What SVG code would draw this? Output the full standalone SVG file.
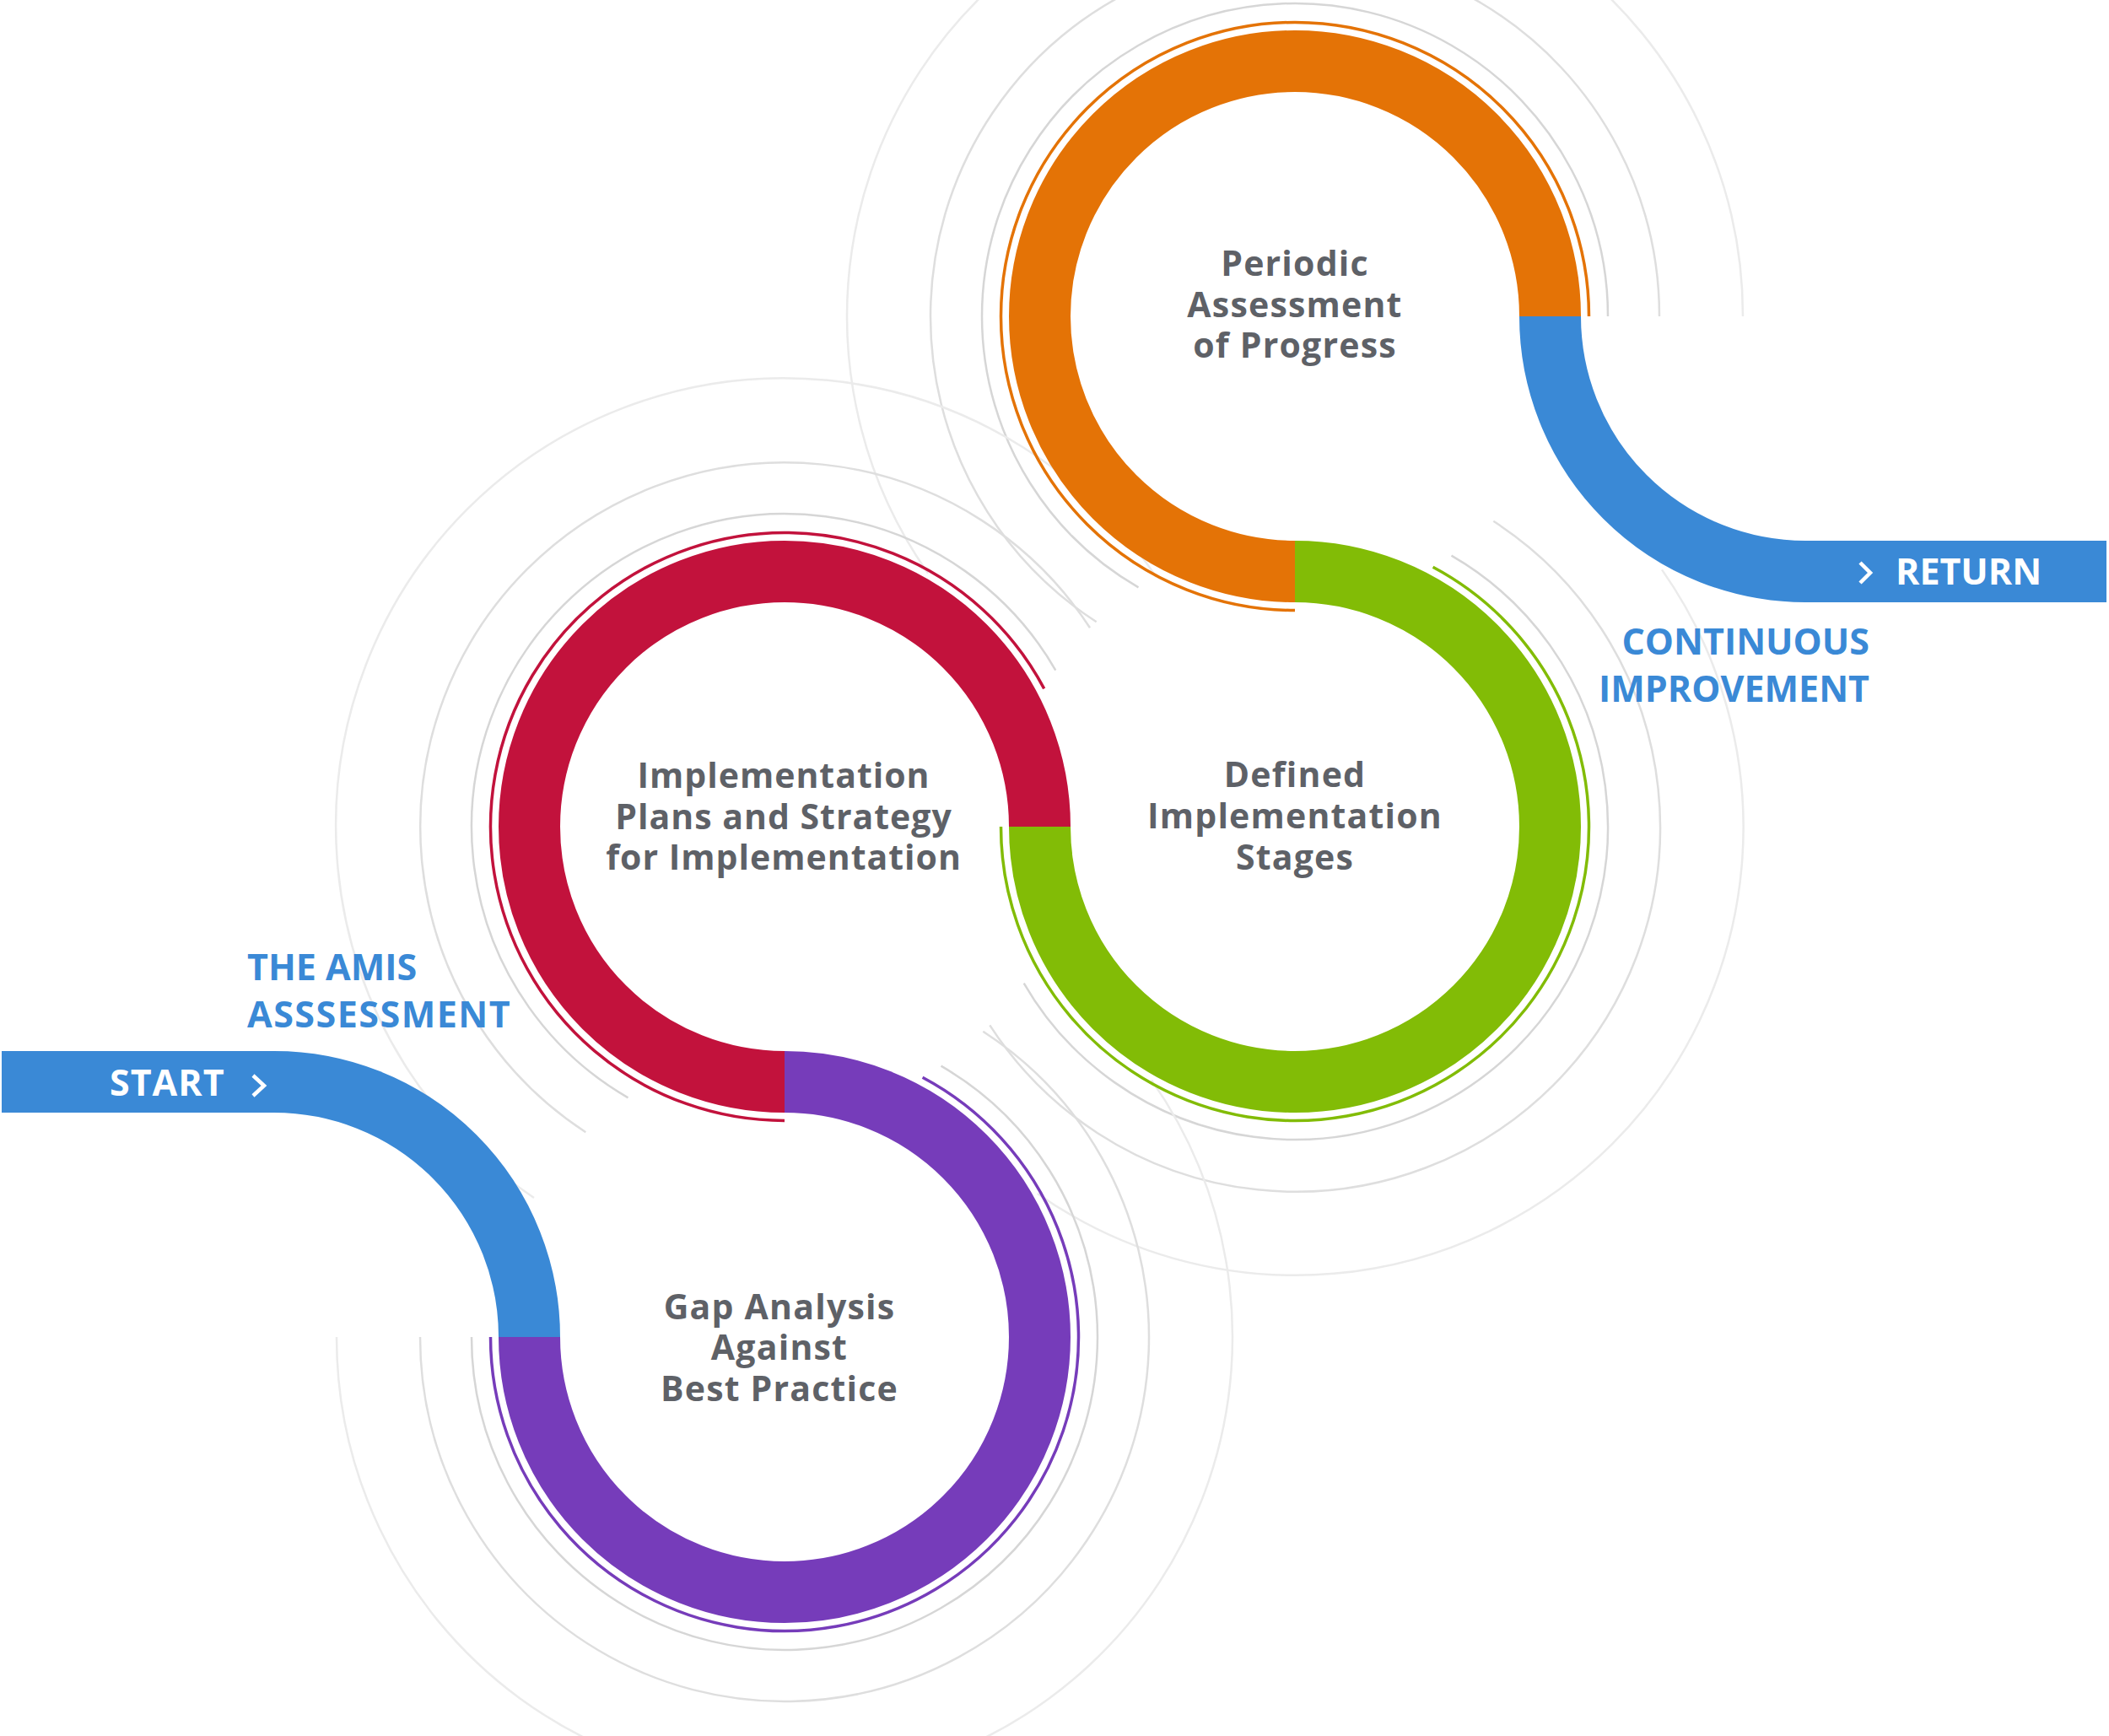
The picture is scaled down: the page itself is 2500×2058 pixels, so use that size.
<svg xmlns="http://www.w3.org/2000/svg" width="2500" height="2058" viewBox="0 0 2500 2058">
<style>
.g1{fill:none;stroke:#d6d6d6;stroke-width:2.5}
.g2{fill:none;stroke:#dedede;stroke-width:2.5}
.g3{fill:none;stroke:#ebebeb;stroke-width:2.5}
.band{fill:none;stroke-width:73;stroke-linecap:butt}
.thin{fill:none;stroke-width:3.5}
.lbl{font-family:"Open Sans","Noto Sans",sans-serif;font-weight:700;font-size:41px;fill:#5e6167;text-anchor:middle;letter-spacing:1.2px}
.blue{font-family:"Open Sans","Noto Sans",sans-serif;font-weight:700;font-size:43px;fill:#3a89d6}
.wht{font-family:"Open Sans","Noto Sans",sans-serif;font-weight:700;font-size:43px;fill:#ffffff}
.chev{fill:none;stroke:#ffffff;stroke-width:4.5;stroke-linecap:butt;stroke-linejoin:miter}
</style>
<rect width="2500" height="2058" fill="#ffffff"/>

<g id="decor-rings">
  <!-- orange (1535,375) -->
  <path class="g1" d="M1349.5 696.3 A371 371 0 1 1 1906 375"/>
  <path class="g2" d="M1299.7 737.3 A432 432 0 1 1 1967 375"/>
  <path class="g3" d="M1100 679.6 A531 531 0 1 1 2066 375"/>
  <!-- red (930,980) -->
  <path class="g1" d="M744.5 1301.3 A371 371 0 1 1 1251.3 794.5"/>
  <path class="g2" d="M694.3 1342.2 A432 432 0 1 1 1292 744.2"/>
  <path class="g3" d="M633 1420 A531 531 0 1 1 1370.5 684"/>
  <!-- green (1535,980) -->
  <path class="g1" d="M1720.5 658.7 A371 371 0 1 1 1213.7 1165.5"/>
  <path class="g2" d="M1770.3 617.8 A432 432 0 1 1 1173.3 1215.4"/>
  <path class="g3" d="M1970 675.4 A531 531 0 0 1 1229.8 1414.9"/>
  <!-- purple (930,1585) -->
  <path class="g1" d="M1115.5 1263.7 A371 371 0 1 1 559 1585"/>
  <path class="g2" d="M1165.3 1222.7 A432 432 0 1 1 498 1585"/>
  <path class="g3" d="M1365 1280.4 A531 531 0 1 1 399 1585"/>
</g>

<g id="connectors">
  <path id="start-path" class="band" stroke="#3a89d6" d="M2 1282.5 H325 A302.5 302.5 0 0 1 627.5 1585"/>
  <path id="return-path" class="band" stroke="#3a89d6" d="M1837.5 375 A302.5 302.5 0 0 0 2140 677.5 H2497"/>
</g>

<g id="node-orange">
  <path class="band" stroke="#e47306" d="M1535 677.5 A302.5 302.5 0 1 1 1837.5 375"/>
  <path class="thin" stroke="#e47306" d="M1535 723.5 A348.5 348.5 0 1 1 1883.5 375"/>
  <text class="lbl" x="1535" y="327">Periodic<tspan x="1535" y="376">Assessment</tspan><tspan x="1535" y="424">of Progress</tspan></text>
</g>

<g id="node-red">
  <path class="band" stroke="#c2123c" d="M930 1282.5 A302.5 302.5 0 1 1 1232.5 980"/>
  <path class="thin" stroke="#c2123c" d="M930 1328.5 A348.5 348.5 0 1 1 1237.7 816.4"/>
  <text class="lbl" x="929" y="934" style="letter-spacing:1px">Implementation<tspan x="929" y="983">Plans and Strategy</tspan><tspan x="929" y="1031">for Implementation</tspan></text>
</g>

<g id="node-green">
  <path class="band" stroke="#82bc06" d="M1535 677.5 A302.5 302.5 0 1 1 1232.5 980"/>
  <path class="thin" stroke="#82bc06" d="M1698.6 672.3 A348.5 348.5 0 1 1 1186.5 980"/>
  <text class="lbl" x="1535" y="933">Defined<tspan x="1535" y="982">Implementation</tspan><tspan x="1535" y="1031">Stages</tspan></text>
</g>

<g id="node-purple">
  <path class="band" stroke="#763cba" d="M930 1282.5 A302.5 302.5 0 1 1 627.5 1585"/>
  <path class="thin" stroke="#763cba" d="M1093.6 1277.3 A348.5 348.5 0 1 1 581.5 1585"/>
  <text class="lbl" x="924" y="1564">Gap Analysis<tspan x="924" y="1612">Against</tspan><tspan x="924" y="1661">Best Practice</tspan></text>
</g>

<g id="label-start">
  <text class="wht" x="130" y="1299" style="letter-spacing:1px">START</text>
  <polyline class="chev" points="300,1275 313,1287 300,1299"/>
  <text class="blue" x="293" y="1162">THE AMIS<tspan x="293" y="1218" style="letter-spacing:1.5px">ASSSESSMENT</tspan></text>
</g>

<g id="label-return">
  <polyline class="chev" points="2205,667 2217,679 2205,691"/>
  <text class="wht" x="2247" y="693">RETURN</text>
  <text class="blue" x="2216" y="776" text-anchor="end">CONTINUOUS<tspan x="2216" y="832">IMPROVEMENT</tspan></text>
</g>
</svg>
